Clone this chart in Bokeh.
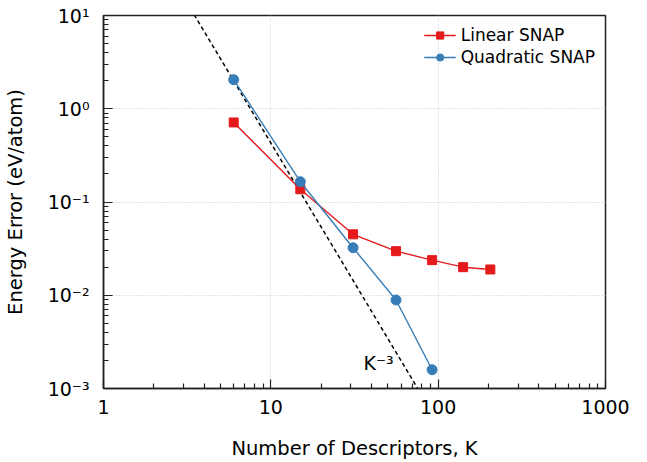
from bokeh.plotting import figure
from bokeh.models import (Legend, LegendItem, Label, FixedTicker, CustomJSTickFormatter, Range1d)
from bokeh.embed import file_html
from bokeh.resources import INLINE

# ---- data ----
linear_k = [6, 15, 31, 56, 92, 141, 205]
linear_err = [0.713, 0.137, 0.045, 0.0297, 0.0238, 0.0200, 0.0189]
quad_k = [6, 15, 31, 56, 92]
quad_err = [2.05, 0.165, 0.0323, 0.0089, 0.00159]
ref_k = [3.0, 80.0]
ref_coeff = 430.0
ref_err = [ref_coeff * k ** -3 for k in ref_k]

x_ticks = [1, 10, 100, 1000]
y_ticks = [1e-3, 1e-2, 1e-1, 1, 10]

FONT = "DejaVu Sans"
RED = "#e41a1c"
BLUE = "#377eb8"

p = figure(x_axis_type="log", y_axis_type="log",
           x_range=Range1d(1, 1000), y_range=Range1d(1e-3, 10),
           frame_width=502, frame_height=373,
           min_border_left=102, min_border_top=15, min_border_right=27, min_border_bottom=58,
           output_backend="svg", toolbar_location=None)
p.background_fill_color = "white"
p.border_fill_color = "white"
p.outline_line_color = "#222222"
p.outline_line_width = 1.5

# ticks
x_minor = [m * 10 ** e for e in range(0, 3) for m in range(2, 10)]
y_minor = [m * 10.0 ** e for e in range(-3, 1) for m in range(2, 10)]
p.xaxis.ticker = FixedTicker(ticks=x_ticks, minor_ticks=x_minor)
p.yaxis.ticker = FixedTicker(ticks=y_ticks, minor_ticks=y_minor)
p.xaxis.formatter = CustomJSTickFormatter(code="return String(Math.round(tick));")
p.yaxis.formatter = CustomJSTickFormatter(code="""
const sup = {'-':'\u207b','0':'\u2070','1':'\u00b9','2':'\u00b2','3':'\u00b3','4':'\u2074','5':'\u2075','6':'\u2076','7':'\u2077','8':'\u2078','9':'\u2079'};
const e = String(Math.round(Math.log10(tick)));
let s = '';
for (const c of e) s += sup[c];
return '10' + s;
""")

for ax in (p.xaxis, p.yaxis):
    ax.axis_line_color = "#222222"
    ax.axis_line_width = 1.5
    ax.major_tick_in = 9
    ax.major_tick_out = 0
    ax.minor_tick_in = 5
    ax.minor_tick_out = 0
    ax.major_tick_line_color = "#222222"
    ax.major_tick_line_width = 1.2
    ax.minor_tick_line_color = "#222222"
    ax.minor_tick_line_width = 1.2
    ax.major_label_text_font = FONT
    ax.major_label_text_font_size = "19px"
    ax.major_label_text_color = "black"
    ax.axis_label_text_font = FONT
    ax.axis_label_text_font_size = "19.5px"
    ax.axis_label_text_font_style = "normal"
    ax.axis_label_text_color = "black"

p.xaxis.axis_label = "Number of Descriptors, K"
p.yaxis.axis_label = "Energy Error (eV/atom)"
p.xaxis.major_label_standoff = 11
p.yaxis.major_label_standoff = 14
p.xaxis.axis_label_standoff = 20
p.yaxis.axis_label_standoff = 18

for g in (p.xgrid, p.ygrid):
    g.grid_line_color = "#c8c8c8"
    g.grid_line_dash = "1 2"
    g.grid_line_width = 1

# reference line
p.line(ref_k, ref_err, line_color="black", line_dash="4 3", line_width=1.5)

# series
l1 = p.line(linear_k, linear_err, line_color=RED, line_width=1.4)
s1 = p.scatter(linear_k, linear_err, marker="square", size=9, fill_color=RED, line_color=RED)
l2 = p.line(quad_k, quad_err, line_color=BLUE, line_width=1.4)
s2 = p.scatter(quad_k, quad_err, marker="circle", size=10, fill_color=BLUE, line_color=BLUE)

legend = Legend(items=[LegendItem(label="Linear SNAP", renderers=[l1, s1]),
                       LegendItem(label="Quadratic SNAP", renderers=[l2, s2])],
                location="top_right")
legend.background_fill_alpha = 0
legend.border_line_alpha = 0
legend.label_text_font = FONT
legend.label_text_font_size = "17px"
legend.label_text_color = "black"
legend.label_height = 18
legend.glyph_width = 32
legend.glyph_height = 18
legend.spacing = 2
legend.padding = 4
legend.margin = 6
p.add_layout(legend)

p.add_layout(Label(x=44, y=0.0019, text="K\u207b\u00b3", text_font=FONT, text_font_size="19px",
                   text_align="center", text_baseline="middle", text_color="black"))

open("out.html", "w").write(file_html(p, INLINE))
